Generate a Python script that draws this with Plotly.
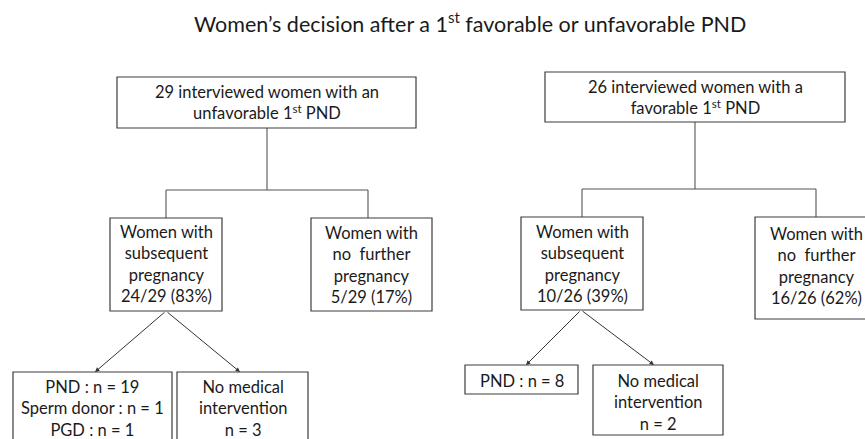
import plotly.graph_objects as go

# ---------------- data ----------------
title_text = "Women’s decision after a 1<sup>st</sup> favorable or unfavorable PND"
groups = ["unfavorable", "favorable"]
articles = ["an", "a"]
interviewed = [29, 26]
with_subsequent = [24, 10]
no_further = [5, 16]
pct_subsequent = [83, 39]
pct_no_further = [17, 62]
left_intervention_labels = ["PND", "Sperm donor", "PGD"]
left_intervention_counts = [19, 1, 1]
right_intervention_labels = ["PND"]
right_intervention_counts = [8]
no_medical_counts = [3, 2]

# ---------------- layout geometry (pixels) ----------------
W, H = 865, 439
# boxes: x0, x1, y0, y1, text-centre y
top_boxes = [(117, 416, 77, 128, 102.5), (545, 845, 72, 122, 97.5)]
sub_boxes = [(110, 222, 218, 311, 263.5), (521, 643, 217, 310, 263.5)]
nofur_boxes = [(311, 432, 218, 311, 265), (755, 877, 217, 319, 265.5)]
interv_boxes = [(13, 172, 372, 445, 408), (465, 578, 365, 394, 380.5)]
nomed_boxes = [(177, 308, 372, 445, 408), (593, 723, 365, 435, 402)]
# tree connectors: stem x, stem top, bar y, left x, right x, child top
trees = [(267, 128, 190, 166, 368, 218), (695, 122, 189, 582, 816, 217)]
# arrows: tail (x,y) -> heads
arrows = [((166, 311), [(95, 372), (240, 372)]),
          ((581, 310), [(526, 365), (654, 365)])]

FONT = "Lato"
TXT = "#1a1a1a"
BOX_LINE = "#3c3c3c"
CON_LINE = "#555555"
FS = 16.5

fig = go.Figure()
fig.add_trace(go.Scatter(x=[0, W], y=[0, H], mode="markers",
                         marker=dict(opacity=0), hoverinfo="skip", showlegend=False))

shapes = []
annotations = []


def add_box(b, text):
    x0, x1, y0, y1, yc = b
    shapes.append(dict(type="rect", xref="x", yref="y", x0=x0, x1=x1, y0=y0, y1=y1,
                       line=dict(color=BOX_LINE, width=1.2), fillcolor="white", layer="above"))
    annotations.append(dict(x=(x0 + x1) / 2, y=yc, xref="x", yref="y", text=text,
                            showarrow=False, align="center", xanchor="center", yanchor="middle",
                            font=dict(family=FONT, size=FS, color=TXT)))


def line(x0, y0, x1, y1):
    shapes.append(dict(type="line", xref="x", yref="y", x0=x0, y0=y0, x1=x1, y1=y1,
                       line=dict(color=CON_LINE, width=1.1), layer="below"))


for i in range(2):
    add_box(top_boxes[i],
            f"{interviewed[i]} interviewed women with {articles[i]}<br>{groups[i]} 1<sup>st</sup> PND")
    add_box(sub_boxes[i],
            f"Women with<br>subsequent<br>pregnancy<br>{with_subsequent[i]}/{interviewed[i]} ({pct_subsequent[i]}%)")
    add_box(nofur_boxes[i],
            f"Women with<br>no  further<br>pregnancy<br>{no_further[i]}/{interviewed[i]} ({pct_no_further[i]}%)")
    add_box(nomed_boxes[i], f"No medical<br>intervention<br>n = {no_medical_counts[i]}")

add_box(interv_boxes[0], "<br>".join(f"{l} : n = {c}" for l, c in
                                      zip(left_intervention_labels, left_intervention_counts)))
add_box(interv_boxes[1], "<br>".join(f"{l} : n = {c}" for l, c in
                                      zip(right_intervention_labels, right_intervention_counts)))

for sx, sy, by, lx, rx, cy in trees:
    line(sx, sy, sx, by)
    line(lx, by, rx, by)
    line(lx, by, lx, cy)
    line(rx, by, rx, cy)

for (tx, ty), heads in arrows:
    for hx, hy in heads:
        annotations.append(dict(x=hx, y=hy, ax=tx, ay=ty, xref="x", yref="y",
                                axref="x", ayref="y", text="", showarrow=True,
                                arrowhead=2, arrowsize=0.9, arrowwidth=1,
                                arrowcolor="#333333", standoff=0, startstandoff=0))

annotations.append(dict(x=470, y=22, xref="x", yref="y", text=title_text, showarrow=False,
                        xanchor="center", yanchor="middle",
                        font=dict(family=FONT, size=21.5, color=TXT)))

fig.update_layout(
    width=W, height=H, margin=dict(l=0, r=0, t=0, b=0),
    paper_bgcolor="white", plot_bgcolor="white",
    xaxis=dict(range=[0, W], visible=False, fixedrange=True),
    yaxis=dict(range=[H, 0], visible=False, fixedrange=True),
    shapes=shapes, annotations=annotations, showlegend=False,
)

fig.write_html("out.html", config={"displayModeBar": False},
               post_script="document.body.style.margin='0';document.body.style.overflow='hidden';")
